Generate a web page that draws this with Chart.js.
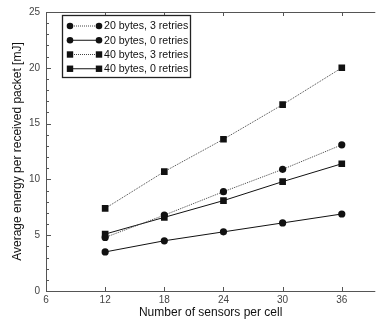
<!DOCTYPE html>
<html><head><meta charset="utf-8">
<script src="https://cdn.jsdelivr.net/npm/chart.js@4/dist/chart.umd.min.js"></script>
<style>html,body{margin:0;padding:0;background:#fff;overflow:hidden}canvas{display:block}</style>
</head><body>
<canvas id="c" width="380" height="323"></canvas>
<script>
const sensors = [12, 18, 24, 30, 36];
const b20r3 = [4.8, 6.8, 8.9, 10.9, 13.1];
const b20r0 = [3.5, 4.5, 5.3, 6.1, 6.9];
const b40r3 = [7.4, 10.7, 13.6, 16.7, 20.0];
const b40r0 = [5.1, 6.6, 8.1, 9.8, 11.4];
const seriesNames = ['20 bytes, 3 retries', '20 bytes, 0 retries', '40 bytes, 3 retries', '40 bytes, 0 retries'];
const xTicks = [6, 12, 18, 24, 30, 36];
const yTicks = [0, 5, 10, 15, 20, 25];

const FONT = '"Liberation Sans", Arial, sans-serif';
const AX = '#555';

function mk(name, vals, dotted, style) {
  return {
    label: name,
    data: sensors.map((x, i) => ({x, y: vals[i]})),
    borderColor: dotted ? '#444' : '#111',
    borderWidth: 1,
    borderDash: dotted ? [1, 1] : [],
    pointStyle: style,
    pointRadius: style === 'rect' ? 4.7 : 3.6,
    pointBackgroundColor: '#111',
    pointBorderColor: '#111',
    pointBorderWidth: 0,
    tension: 0,
    fill: false
  };
}

const frame = {
  id: 'frame',
  afterDatasetsDraw(chart) {
    const ctx = chart.ctx, a = chart.chartArea;
    const xs = chart.scales.x, ys = chart.scales.y;
    ctx.save();
    ctx.strokeStyle = AX; ctx.lineWidth = 1;
    ctx.beginPath();
    ctx.moveTo(a.left + 0.5, a.top); ctx.lineTo(a.left + 0.5, a.bottom);
    ctx.moveTo(a.left, a.bottom + 0.5); ctx.lineTo(a.right, a.bottom + 0.5);
    ctx.moveTo(a.left, a.top + 0.5); ctx.lineTo(a.right, a.top + 0.5);
    xTicks.forEach(v => {
      const px = Math.round(xs.getPixelForValue(v)) + 0.5;
      ctx.moveTo(px, a.bottom); ctx.lineTo(px, a.bottom - 4);
      ctx.moveTo(px, a.top); ctx.lineTo(px, a.top + 4);
    });
    for (let v = 0; v <= 25; v++) {
      const py = Math.round(ys.getPixelForValue(v)) + 0.5;
      const len = v % 5 === 0 ? 5 : 3;
      ctx.moveTo(a.left, py); ctx.lineTo(a.left + len, py);
    }
    ctx.stroke();

    // legend
    const lx = 62.5, ly = 15.5, lw = 128, lh = 62;
    ctx.fillStyle = '#fff';
    ctx.fillRect(lx, ly, lw, lh);
    ctx.strokeStyle = '#222'; ctx.lineWidth = 1.3;
    ctx.strokeRect(lx, ly, lw, lh);
    ctx.font = '10.6px ' + FONT;
    ctx.textBaseline = 'middle';
    chart.data.datasets.forEach((ds, i) => {
      const y = 26 + i * 14.25;
      const x1 = 70, x2 = 99;
      ctx.save();
      ctx.strokeStyle = ds.borderColor; ctx.lineWidth = 1;
      ctx.setLineDash(ds.borderDash);
      ctx.beginPath(); ctx.moveTo(x1, y); ctx.lineTo(x2, y); ctx.stroke();
      ctx.restore();
      ctx.fillStyle = '#111';
      [x1, x2].forEach(x => {
        ctx.beginPath();
        if (ds.pointStyle === 'rect') { ctx.rect(x - 3.2, y - 3.2, 6.4, 6.4); }
        else { ctx.arc(x, y, 3.3, 0, Math.PI * 2); }
        ctx.fill();
      });
      ctx.fillStyle = '#111';
      ctx.textAlign = 'left';
      ctx.fillText(ds.label, 104, y + 0.5);
    });
    ctx.restore();
  }
};

new Chart(document.getElementById('c'), {
  type: 'line',
  data: {
    datasets: [
      mk(seriesNames[0], b20r3, true, 'circle'),
      mk(seriesNames[1], b20r0, false, 'circle'),
      mk(seriesNames[2], b40r3, true, 'rect'),
      mk(seriesNames[3], b40r0, false, 'rect')
    ]
  },
  options: {
    responsive: false,
    animation: false,
    devicePixelRatio: 1,
    layout: {padding: {top: 7, right: 0, left: 0, bottom: 0}},
    plugins: {legend: {display: false}, tooltip: {enabled: false}},
    scales: {
      x: {
        type: 'linear', min: 6, max: 39.4,
        afterBuildTicks: s => { s.ticks = xTicks.map(v => ({value: v})); },
        afterFit: s => { s.height = 32; },
        grid: {display: false, drawTicks: false},
        border: {display: false},
        ticks: {padding: 3, color: '#444', font: {family: FONT, size: 10}, maxRotation: 0},
        title: {display: true, text: 'Number of sensors per cell', color: '#111',
                font: {family: FONT, size: 12}, padding: {top: 0, bottom: 3}}
      },
      y: {
        type: 'linear', min: 0, max: 25,
        afterBuildTicks: s => { s.ticks = yTicks.map(v => ({value: v})); },
        afterFit: s => { s.width = 46; },
        grid: {display: false, drawTicks: false},
        border: {display: false},
        ticks: {padding: 6, color: '#444', font: {family: FONT, size: 10}},
        title: {display: true, text: 'Average energy per received packet [mJ]', color: '#111',
                font: {family: FONT, size: 12}, padding: {top: 10, bottom: 0}}
      }
    }
  },
  plugins: [frame]
});
</script>
</body></html>
